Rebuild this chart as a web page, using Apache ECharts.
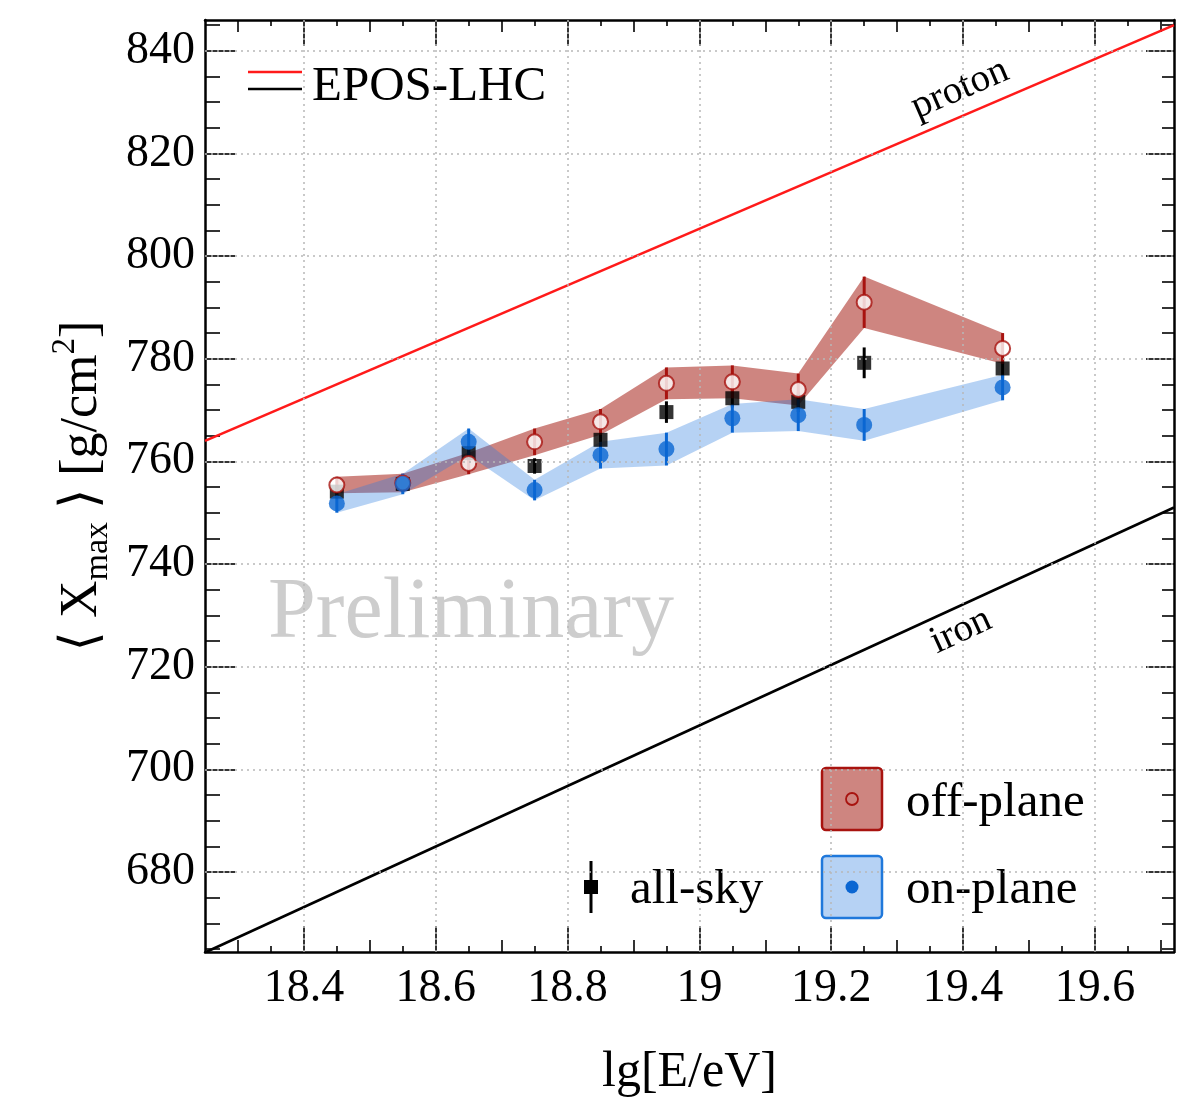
<!DOCTYPE html>
<html>
<head>
<meta charset="utf-8">
<title>Xmax vs energy</title>
<script src="https://cdn.jsdelivr.net/npm/echarts@6/dist/echarts.min.js"></script>
<style>
  html, body { margin: 0; padding: 0; background: #ffffff; }
  #chart { width: 1204px; height: 1097px; }
</style>
</head>
<body>
<div id="chart"></div>
<script>
// lg(E/eV) bin centres
const energy = [18.45, 18.55, 18.65, 18.75, 18.85, 18.95, 19.05, 19.15, 19.25, 19.46];

// <Xmax> in g/cm^2, with statistical uncertainties
const offPlane    = [755.4, 755.8, 759.6, 763.8, 767.7, 775.2, 775.5, 774.0, 791.0, 782.0];
const offPlaneErr = [1.6, 1.8, 2.1, 2.6, 2.5, 3.1, 3.2, 3.1, 5.0, 3.0];
const onPlane     = [751.8, 755.6, 763.8, 754.4, 761.2, 762.4, 768.4, 769.0, 767.1, 774.4];
const onPlaneErr  = [1.8, 2.0, 2.6, 2.0, 2.6, 3.2, 2.8, 3.1, 3.1, 2.5];
const allSky      = [754.1, 755.6, 761.6, 759.1, 764.2, 769.6, 772.3, 771.6, 779.2, 778.1];
const allSkyErr   = [1.2, 1.2, 1.5, 1.5, 1.8, 2.1, 1.8, 2.0, 3.0, 2.0];

// EPOS-LHC expectations (straight lines in lg E)
const protonLine = [[18.25, 764.0], [19.72, 845.0]];
const ironLine   = [[18.25, 664.3], [19.72, 751.0]];

// axis ranges and tick labels
const xRange = [18.25, 19.72];
const yRange = [664.4, 846.0];
const xMajorTicks = [18.4, 18.6, 18.8, 19, 19.2, 19.4, 19.6];
const yMajorTicks = [680, 700, 720, 740, 760, 780, 800, 820, 840];

const FONT = '"Liberation Serif", "DejaVu Serif", "Times New Roman", serif';
const RED_DARK = '#a8130f';
const RED_BAND = 'rgba(166, 32, 24, 0.55)';
const BLUE = '#0a66d2';
const BLUE_BAND = 'rgba(40, 122, 222, 0.34)';

// secondary tick positions between the labelled ones
function stepTicks(lo, hi, step, skipStep) {
  const out = [];
  const n0 = Math.ceil(lo / step - 1e-6), n1 = Math.floor(hi / step + 1e-6);
  for (let n = n0; n <= n1; n++) {
    const v = +(n * step).toFixed(4);
    if (skipStep && Math.abs(v / skipStep - Math.round(v / skipStep)) < 1e-6) continue;
    out.push(v);
  }
  return out;
}
const xMidTicks = stepTicks(xRange[0] + 0.01, xRange[1] - 0.01, 0.1, 0.2);
const xFineTicks = stepTicks(xRange[0] + 0.01, xRange[1] - 0.01, 0.05, 0.1);
const yMinorTicks = stepTicks(yRange[0] + 0.5, yRange[1] - 0.5, 5, 20);

function xAxisDef(position, ticks, len, showLine, showLabel) {
  return {
    type: 'value', position, min: xRange[0], max: xRange[1],
    axisLine: { show: showLine, onZero: false, lineStyle: { color: '#000', width: 2.5 } },
    axisTick: { show: true, inside: true, length: len, customValues: ticks,
                lineStyle: { color: '#000', width: 1.6 } },
    axisLabel: showLabel ? {
      show: true, customValues: ticks, margin: 14, fontSize: 46, color: '#000', fontFamily: FONT,
      formatter: v => String(+v.toFixed(2))
    } : { show: false },
    splitLine: { show: false }
  };
}
function yAxisDef(position, ticks, len, showLine, showLabel) {
  return {
    type: 'value', position, min: yRange[0], max: yRange[1],
    axisLine: { show: showLine, onZero: false, lineStyle: { color: '#000', width: 2.5 } },
    axisTick: { show: true, inside: true, length: len, customValues: ticks,
                lineStyle: { color: '#000', width: 1.6 } },
    axisLabel: showLabel ? {
      show: true, customValues: ticks, margin: 10, fontSize: 46, color: '#000', fontFamily: FONT,
      formatter: v => String(Math.round(v))
    } : { show: false },
    splitLine: { show: false }
  };
}

const xAxes = [
  xAxisDef('bottom', xMajorTicks, 26, true, true),
  xAxisDef('bottom', xMidTicks, 12, false, false),
  xAxisDef('bottom', xFineTicks, 6, false, false),
  xAxisDef('top', xMajorTicks, 26, true, false),
  xAxisDef('top', xMidTicks, 12, false, false),
  xAxisDef('top', xFineTicks, 6, false, false)
];
Object.assign(xAxes[0], {
  name: 'lg[E/eV]', nameLocation: 'middle', nameGap: 96, nameMoveOverlap: false,
  nameTextStyle: { fontSize: 50, color: '#000', fontFamily: FONT }
});

const yAxes = [
  yAxisDef('left', yMajorTicks, 30, true, true),
  yAxisDef('left', yMinorTicks, 15, false, false),
  yAxisDef('right', yMajorTicks, 28, true, false),
  yAxisDef('right', yMinorTicks, 12, false, false)
];
Object.assign(yAxes[0], {
  name: '{a|\u27E8 X}{s|max}{a| \u27E9 [g/cm}{p|2}{a|]}',
  nameLocation: 'middle', nameRotate: 90, nameGap: 90, nameMoveOverlap: false,
  nameTextStyle: {
    color: '#000', fontFamily: FONT,
    rich: {
      a: { fontSize: 52, fontFamily: FONT, color: '#000', lineHeight: 66, verticalAlign: 'middle' },
      s: { fontSize: 34, fontFamily: FONT, color: '#000', lineHeight: 66, verticalAlign: 'bottom' },
      p: { fontSize: 33, fontFamily: FONT, color: '#000', lineHeight: 66, verticalAlign: 'top' }
    }
  }
});

// translucent band between value-err and value+err, as one polygon
function bandSeries(name, vals, errs, fill) {
  return {
    type: 'custom', name, silent: true,
    data: energy.map((x, i) => [x, vals[i] - errs[i], vals[i] + errs[i]]),
    renderItem(params, api) {
      if (params.dataIndexInside !== 0) return null;
      const n = params.dataInsideLength;
      const upper = [], lower = [];
      for (let i = 0; i < n; i++) {
        upper.push(api.coord([api.value(0, i), api.value(2, i)]));
        lower.push(api.coord([api.value(0, i), api.value(1, i)]));
      }
      return {
        type: 'polygon',
        shape: { points: upper.concat(lower.reverse()) },
        style: { fill, stroke: null }
      };
    }
  };
}

// vertical error bars
function errorSeries(name, vals, errs, color) {
  return {
    type: 'custom', name, silent: true,
    data: energy.map((x, i) => [x, vals[i] - errs[i], vals[i] + errs[i]]),
    renderItem(params, api) {
      const a = api.coord([api.value(0), api.value(1)]);
      const b = api.coord([api.value(0), api.value(2)]);
      return {
        type: 'line',
        shape: { x1: a[0], y1: a[1], x2: b[0], y2: b[1] },
        style: { stroke: color, lineWidth: 3 }
      };
    }
  };
}

function markerSeries(name, vals, symbol, size, itemStyle) {
  return {
    type: 'scatter', name, silent: true, symbol, symbolSize: size,
    data: energy.map((x, i) => [x, vals[i]]),
    itemStyle
  };
}

const gridLineStyle = { color: '#b8b8b8', width: 1.5, type: [2, 4] };

const series = [
  {
    // dotted reference grid at the labelled ticks
    type: 'line', name: 'grid', data: [], silent: true, z: 0,
    markLine: {
      silent: true, symbol: ['none', 'none'], label: { show: false },
      lineStyle: gridLineStyle, emphasis: { disabled: true }, animation: false,
      data: xMajorTicks.map(v => ({ xAxis: v })).concat(yMajorTicks.map(v => ({ yAxis: v })))
    }
  },
  {
    type: 'line', name: 'proton', data: protonLine, showSymbol: false, silent: true,
    lineStyle: { color: '#ff1a1a', width: 2.6 }
  },
  {
    type: 'line', name: 'iron', data: ironLine, showSymbol: false, silent: true,
    lineStyle: { color: '#000', width: 2.6 }
  },
  errorSeries('all-sky err', allSky, allSkyErr, '#000'),
  markerSeries('all-sky', allSky, 'rect', 14, { color: '#000' }),
  bandSeries('off-plane band', offPlane, offPlaneErr, RED_BAND),
  errorSeries('off-plane err', offPlane, offPlaneErr, RED_DARK),
  markerSeries('off-plane', offPlane, 'circle', 15,
    { color: '#ffffff', borderColor: RED_DARK, borderWidth: 2 }),
  bandSeries('on-plane band', onPlane, onPlaneErr, BLUE_BAND),
  errorSeries('on-plane err', onPlane, onPlaneErr, BLUE),
  markerSeries('on-plane', onPlane, 'circle', 16, { color: BLUE })
];

const txt = (x, y, text, size) => ({
  type: 'text', x, y, silent: true,
  style: { text, fontSize: size, fontFamily: FONT, fill: '#000', align: 'left', verticalAlign: 'middle' }
});

const graphic = [
  // watermark
  { type: 'text', x: 471, y: 614, silent: true, z: 1,
    style: { text: 'Preliminary', fontSize: 86, fontFamily: FONT, fill: '#cdcdcd',
             align: 'center', verticalAlign: 'middle' } },
  // model labels along the lines
  { type: 'text', x: 960, y: 89, rotation: 0.4065, silent: true,
    style: { text: 'proton', fontSize: 39, fontFamily: FONT, fill: '#000',
             align: 'center', verticalAlign: 'middle' } },
  { type: 'text', x: 961, y: 631, rotation: 0.4298, silent: true,
    style: { text: 'iron', fontSize: 39, fontFamily: FONT, fill: '#000',
             align: 'center', verticalAlign: 'middle' } },
  // model legend
  { type: 'line', shape: { x1: 248, y1: 72, x2: 302, y2: 72 }, silent: true,
    style: { stroke: '#ff1a1a', lineWidth: 2.6 } },
  { type: 'line', shape: { x1: 248, y1: 89, x2: 302, y2: 89 }, silent: true,
    style: { stroke: '#000', lineWidth: 2.6 } },
  txt(312, 87, 'EPOS-LHC', 49),
  // data legend
  { type: 'line', shape: { x1: 591, y1: 861, x2: 591, y2: 913 }, silent: true,
    style: { stroke: '#000', lineWidth: 3 } },
  { type: 'rect', shape: { x: 584, y: 880, width: 14, height: 14 }, silent: true,
    style: { fill: '#000' } },
  txt(630, 890, 'all-sky', 49),
  { type: 'rect', shape: { x: 822, y: 768, width: 60, height: 62, r: 4 }, silent: true,
    style: { fill: RED_BAND, stroke: RED_DARK, lineWidth: 2.5 } },
  { type: 'circle', shape: { cx: 852, cy: 799, r: 6 }, silent: true,
    style: { fill: 'none', stroke: RED_DARK, lineWidth: 1.8 } },
  txt(906, 803, 'off-plane', 49),
  { type: 'rect', shape: { x: 822, y: 856, width: 60, height: 62, r: 4 }, silent: true,
    style: { fill: BLUE_BAND, stroke: '#1f78db', lineWidth: 2.5 } },
  { type: 'circle', shape: { cx: 852, cy: 887, r: 6.5 }, silent: true,
    style: { fill: BLUE } },
  txt(906, 890, 'on-plane', 49)
];

const chart = echarts.init(document.getElementById('chart'), null, { renderer: 'canvas' });
chart.setOption({
  animation: false,
  backgroundColor: '#ffffff',
  textStyle: { fontFamily: FONT },
  grid: { left: 205, right: 30, top: 20, bottom: 145, containLabel: false, outerBoundsMode: 'none' },
  xAxis: xAxes,
  yAxis: yAxes,
  series,
  graphic
});
</script>
</body>
</html>
